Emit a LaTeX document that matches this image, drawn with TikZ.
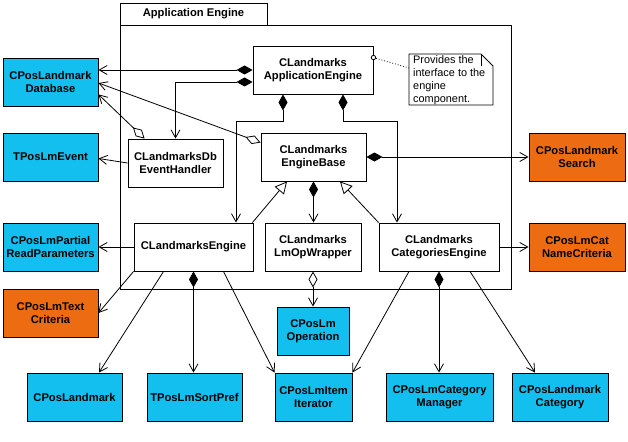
\documentclass[tikz,border=0pt]{standalone}
\usepackage{fontspec}
\setmainfont{Liberation Sans}
\usetikzlibrary{arrows.meta}
\definecolor{lmblue}{RGB}{19,191,239}
\definecolor{lmorange}{RGB}{238,108,17}
\tikzset{
  cls/.style={draw=black, line width=0.9pt, fill=white, align=center, inner sep=0pt,
    font=\fontsize{11.2}{13.3}\selectfont\bfseries},
  blue/.style={cls, fill=lmblue},
  orange/.style={cls, fill=lmorange},
  conn/.style={line width=0.8pt},
  opn/.tip={Straight Barb[length=8pt,width=9pt,line width=0.8pt]},
  fdia/.tip={Diamond[length=16pt,width=9pt,fill=black]},
  odia/.tip={Diamond[length=16pt,width=9pt,open,fill=white]},
  gen/.tip={Triangle[length=12pt,width=12pt,open,fill=white]},
  shadowline/.style={line width=1.8pt},
}
\begin{document}
\begin{tikzpicture}[x=1pt,y=-1pt]
\useasboundingbox (0,0) rectangle (628,441);
% package frame
\draw[line width=0.9pt] (120,3) rectangle (267,25);
\draw[line width=0.9pt] (120,25) rectangle (511,289);
\node[font=\fontsize{11.2}{13.3}\selectfont\bfseries] (pkg) at (193.5,14) {Application Engine};

% classes
\node[blue, minimum width=95pt, minimum height=48pt] (db) at (50.5,82) {CPosLandmark\\Database};
\node[blue, minimum width=95pt, minimum height=48pt] (ev) at (50.5,157) {TPosLmEvent};
\node[blue, minimum width=95pt, minimum height=48pt] (pr) at (50.5,247) {CPosLmPartial\\ReadParameters};
\node[orange, minimum width=95pt, minimum height=48pt] (tc) at (50.5,313) {CPosLmText\\Criteria};
\node[cls, minimum width=95pt, minimum height=48pt] (dbh) at (175.5,163) {CLandmarksDb\\EventHandler};
\node[cls, minimum width=120pt, minimum height=48pt] (app) at (313,70) {CLandmarks\\ApplicationEngine};
\node[cls, minimum width=105pt, minimum height=48pt] (base) at (313.5,157) {CLandmarks\\EngineBase};
\node[orange, minimum width=96pt, minimum height=48pt] (search) at (577,157) {CPosLandmark\\Search};
\node[cls, minimum width=119pt, minimum height=48pt] (eng) at (193.5,247) {CLandmarksEngine};
\node[cls, minimum width=96pt, minimum height=48pt] (op) at (313,247) {CLandmarks\\LmOpWrapper};
\node[cls, minimum width=120pt, minimum height=48pt] (cat) at (439,247) {CLandmarks\\CategoriesEngine};
\node[orange, minimum width=96pt, minimum height=48pt] (cn) at (577,247) {CPosLmCat\\NameCriteria};
\node[blue, minimum width=72pt, minimum height=48pt] (lmop) at (313,331) {CPosLm\\Operation};
\node[blue, minimum width=95pt, minimum height=48pt] (lm) at (74.5,397) {CPosLandmark};
\node[blue, minimum width=95pt, minimum height=48pt] (sp) at (194.5,397) {TPosLmSortPref};
\node[blue, minimum width=77pt, minimum height=48pt] (it) at (313.5,397) {CPosLmItem\\Iterator};
\node[blue, minimum width=107pt, minimum height=48pt] (cm) at (439.5,397) {CPosLmCategory\\Manager};
\node[blue, minimum width=96pt, minimum height=48pt] (lc) at (560,397) {CPosLandmark\\Category};
\foreach \n in {lm,sp,it,cm,lc}{
  \draw[shadowline] (\n.south west) -- (\n.south east);
}

% note
\draw[line width=0.8pt, fill=white] (409,54) -- (481,54) -- (493,66) -- (493,105) -- (409,105) -- cycle;
\draw[line width=0.8pt] (481,54) -- (481,66);
\node[anchor=north west, align=left, inner sep=0pt, font=\fontsize{10.9}{13}\selectfont] (note) at (413,55.5) {Provides the\\interface to the\\engine\\component.};
\coordinate (notein) at (409,68);

% connectors
\draw[conn, fdia-opn] (app.west) -- (app.west -| db.east);
\draw[conn, fdia-opn] ([yshift=-12pt]app.west) -| (dbh.north);
\draw[conn, odia-opn] ([xshift=17pt]dbh.north west) -- ([yshift=12pt]db.south east);
\draw[conn, odia-opn] ([yshift=-10pt]base.north west) -- ([yshift=-1pt]db.east);
\draw[conn, -opn] (dbh.west) -- ([yshift=-1.5pt]ev.east);
\draw[conn, fdia-opn] ([xshift=30pt]app.south) -- ++(0,27) -| ([xshift=-42pt]cat.north);
\draw[conn, fdia-opn] ([xshift=-30pt]app.south) -- ++(0,27) -| ([xshift=42.5pt]eng.north);
\draw[conn, fdia-opn] (base.east) -- (search.west);
\draw[conn, fdia-opn] (base.south) -- (base.south |- op.north);
\draw[conn, -gen] ([xshift=-1pt]eng.north east) -- ([xshift=-26.5pt]base.south);
\draw[conn, -gen] (cat.north west) -- ([xshift=26.5pt]base.south);
\draw[conn, odia-opn] (op.south) -- (lmop.north);
\draw[conn, -opn] (eng.west) -- (pr.east);
\draw[conn, -opn] (eng.south west) -- (tc.east);
\draw[conn, -opn] ([xshift=30pt]eng.south west) -- ([xshift=24.5pt]lm.north);
\draw[conn, fdia-opn] (eng.south) -- (eng.south |- sp.north);
\draw[conn, -opn] ([xshift=-30pt]eng.south east) -- (it.north west);
\draw[conn, -opn] ([xshift=-30pt]cat.south) -- (it.north east);
\draw[conn, fdia-opn] (cat.south) -- (cat.south |- cm.north);
\draw[conn, -opn] ([xshift=31pt]cat.south) -- ([xshift=-25pt]lc.north);
\draw[conn, -opn] (cat.east) -- (cn.west);
\draw[line width=0.8pt, dotted] ([yshift=-12pt]app.north east) -- (notein);
\draw[line width=0.8pt, fill=white] ([yshift=-12pt]app.north east) circle (2.2pt);
\end{tikzpicture}
\end{document}
